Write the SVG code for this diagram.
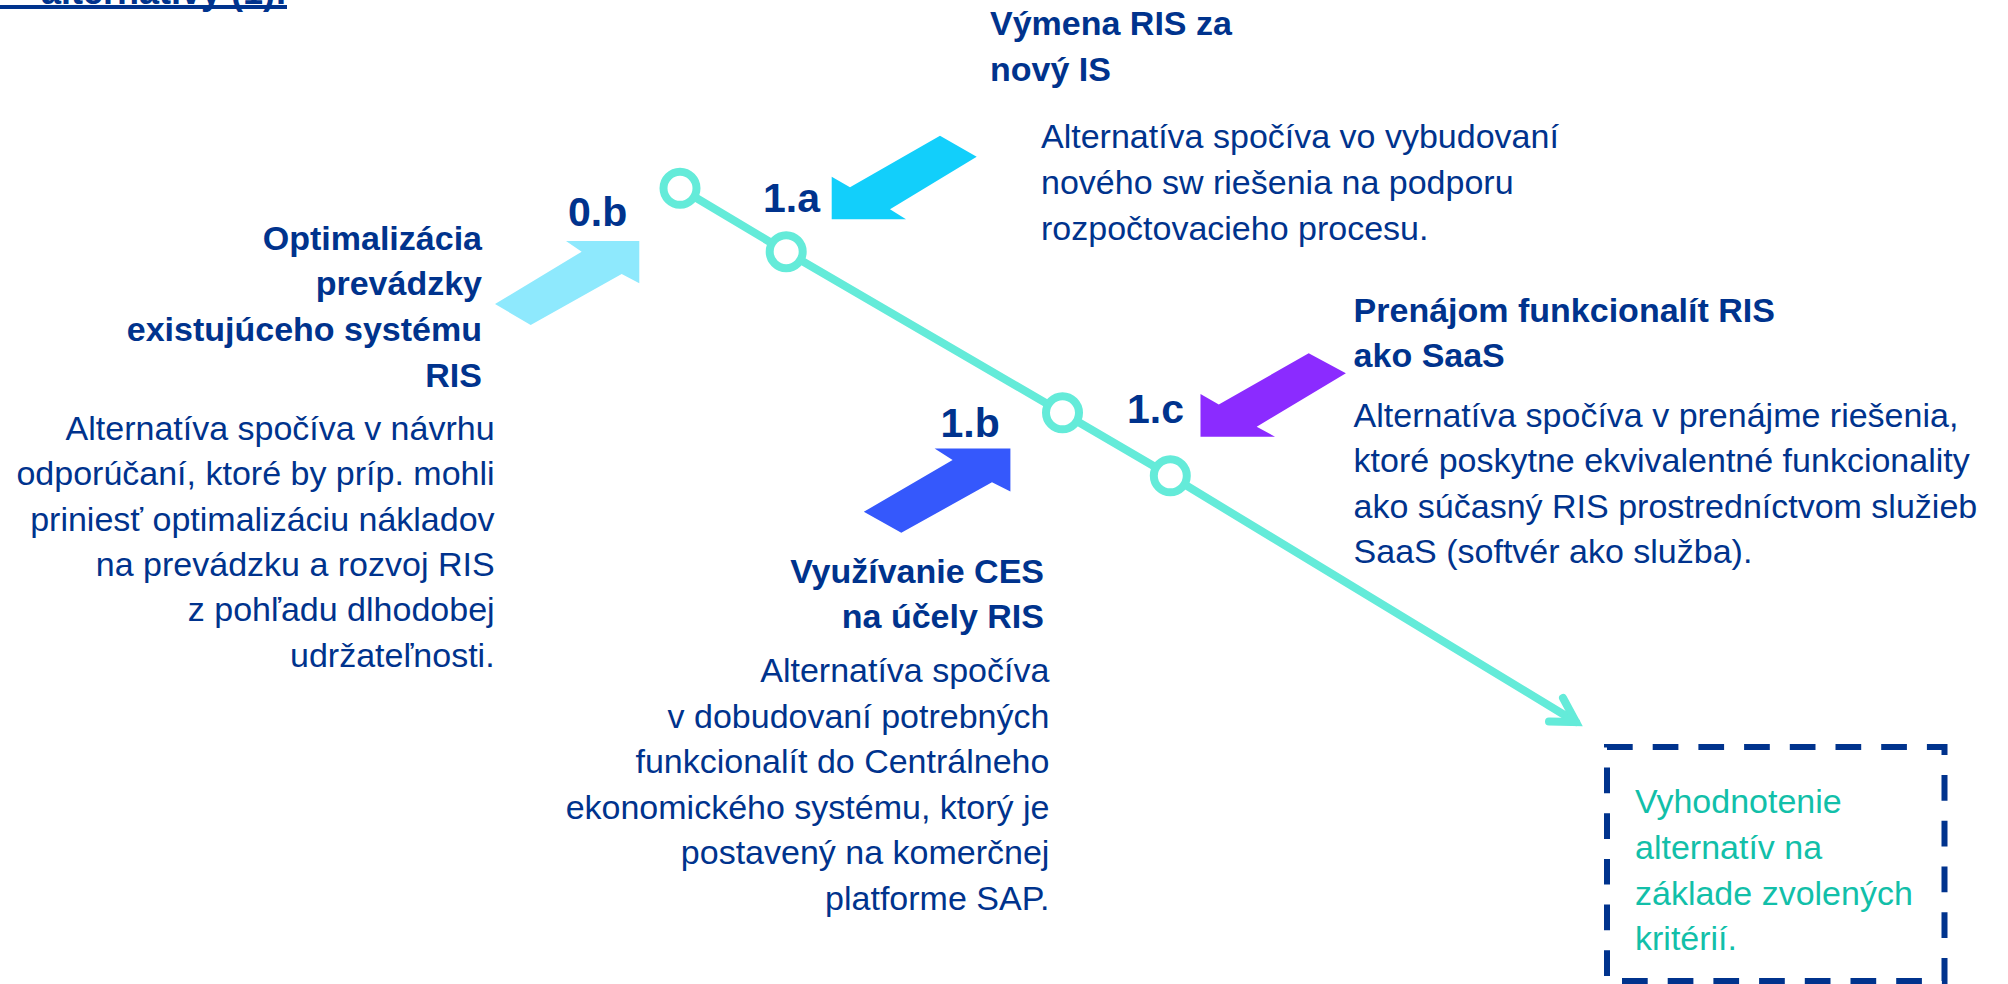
<svg xmlns="http://www.w3.org/2000/svg" width="2008" height="984" viewBox="0 0 2008 984">
<style>
  text { font-family: "Liberation Sans", Arial, sans-serif; fill: #00338D; }
  .h { font-weight: bold; font-size: 34px; }
  .b { font-size: 34px; }
  .lbl { font-weight: bold; font-size: 41px; }
  .r { text-anchor: end; }
  .box-t { fill: #12BFA9; font-size: 34px; }
  .conn { fill: none; stroke: #64EBD9; stroke-width: 8; stroke-linecap: round; stroke-linejoin: round; }
  .head { fill: none; stroke: #64EBD9; stroke-width: 8; stroke-linecap: round; stroke-linejoin: miter; stroke-miterlimit: 10; }
  .dot { fill: #FFFFFF; stroke: #64EBD9; stroke-width: 8; }
</style>
<rect width="2008" height="984" fill="#FFFFFF"/>

<g id="title">
  <text class="r" x="287" y="4" style="font-weight:bold;font-size:36px">alternatívy (1):</text>
  <rect x="0" y="5" width="287" height="4" fill="#00338D"/>
</g>

<g id="connectors">
  <path class="conn" d="M680,188.3 L786.2,251.7 L1062.5,412.8 L1170.3,475.8 L1576,722"/>
  <path class="head" d="M1563,698 L1576,722 L1549,721.5"/>
  <circle class="dot" cx="680" cy="188.3" r="16.5"/>
  <circle class="dot" cx="786.2" cy="251.7" r="16.5"/>
  <circle class="dot" cx="1062.5" cy="412.8" r="16.5"/>
  <circle class="dot" cx="1170.3" cy="475.8" r="16.5"/>
</g>

<g id="node-0b">
  <polygon points="495,304 581.7,251.7 566,241 639.3,241 639.3,283.3 621.7,274 530.7,325" fill="#8EE9FD"/>
  <text class="lbl" x="568" y="226">0.b</text>
  <text class="h r"><tspan x="482" y="249.5">Optimalizácia</tspan><tspan x="482" y="295">prevádzky</tspan><tspan x="482" y="340.5">existujúceho systému</tspan><tspan x="482" y="386.5">RIS</tspan></text>
  <text class="b r"><tspan x="494.6" y="440">Alternatíva spočíva v návrhu</tspan><tspan x="494.6" y="485.3">odporúčaní, ktoré by príp. mohli</tspan><tspan x="494.6" y="530.6">priniesť optimalizáciu nákladov</tspan><tspan x="494.6" y="575.9">na prevádzku a rozvoj RIS</tspan><tspan x="494.6" y="621.2">z pohľadu dlhodobej</tspan><tspan x="494.6" y="666.5">udržateľnosti.</tspan></text>
</g>

<g id="node-1a">
  <polygon points="940,135.7 976.7,156.7 890,209.3 906,219.3 831.7,219.3 831.7,176.7 850,187.3" fill="#12CFFB"/>
  <text class="lbl" x="763" y="212">1.a</text>
  <text class="h"><tspan x="990" y="35">Výmena RIS za</tspan><tspan x="990" y="80.5">nový IS</tspan></text>
  <text class="b"><tspan x="1041" y="148.3">Alternatíva spočíva vo vybudovaní</tspan><tspan x="1041" y="194">nového sw riešenia na podporu</tspan><tspan x="1041" y="239.5">rozpočtovacieho procesu.</tspan></text>
</g>

<g id="node-1b">
  <polygon points="863.8,511.8 952.6,460.1 934.6,448.6 1010.4,448.6 1010.4,491.5 992,482.3 901.3,532.8" fill="#3558FC"/>
  <text class="lbl" x="940.5" y="437.2">1.b</text>
  <text class="h r"><tspan x="1044" y="582.6">Využívanie CES</tspan><tspan x="1044" y="627.7">na účely RIS</tspan></text>
  <text class="b r"><tspan x="1049.4" y="682">Alternatíva spočíva</tspan><tspan x="1049.4" y="727.6">v dobudovaní potrebných</tspan><tspan x="1049.4" y="773.2">funkcionalít do Centrálneho</tspan><tspan x="1049.4" y="818.8">ekonomického systému, ktorý je</tspan><tspan x="1049.4" y="864.4">postavený na komerčnej</tspan><tspan x="1049.4" y="910">platforme SAP.</tspan></text>
</g>

<g id="node-1c">
  <polygon points="1308.7,353.3 1345.9,373.3 1256.7,426.7 1275,436.7 1200.5,436.7 1200.5,394 1218.8,404.5" fill="#8B2BFF"/>
  <text class="lbl" x="1127" y="423.3">1.c</text>
  <text class="h"><tspan x="1353.6" y="321.7">Prenájom funkcionalít RIS</tspan><tspan x="1353.6" y="366.7">ako SaaS</tspan></text>
  <text class="b"><tspan x="1353.6" y="426.7">Alternatíva spočíva v prenájme riešenia,</tspan><tspan x="1353.6" y="472">ktoré poskytne ekvivalentné funkcionality</tspan><tspan x="1353.6" y="517.5">ako súčasný RIS prostredníctvom služieb</tspan><tspan x="1353.6" y="563">SaaS (softvér ako služba).</tspan></text>
</g>

<g id="node-eval">
  <path d="M1607,747 H1944.5 V981 H1607 Z" fill="none" stroke="#00338D" stroke-width="6" stroke-dasharray="25.7 20"/>
  <text class="box-t"><tspan x="1635" y="813.3">Vyhodnotenie</tspan><tspan x="1635" y="859">alternatív na</tspan><tspan x="1635" y="905">základe zvolených</tspan><tspan x="1635" y="950">kritérií.</tspan></text>
</g>
</svg>
